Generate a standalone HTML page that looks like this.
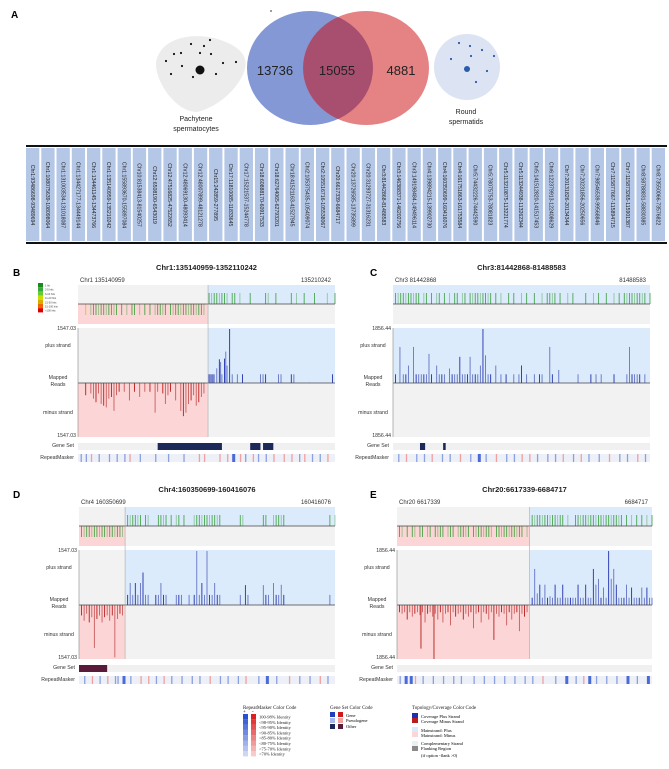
<!DOCTYPE html>
<html><head><meta charset="utf-8"><style>
html,body{margin:0;padding:0;background:#fff;}
svg{display:block;font-family:"Liberation Sans",sans-serif;}
</style></head><body>
<svg id="fig" width="669" height="769" viewBox="0 0 669 769" xmlns="http://www.w3.org/2000/svg">
<defs>
<clipPath id="blueClip"><ellipse cx="310" cy="68" rx="63" ry="57"/></clipPath>
</defs>
<g>
<text x="11" y="18" font-size="10" font-weight="bold">A</text>
<circle cx="271" cy="11" r="0.9" fill="#555"/>
<path d="M160,52 C170,35 205,30 232,45 C245,52 248,62 244,72 C236,92 215,108 197,112 C180,112 162,92 157,72 C155,64 156,58 160,52 Z" fill="#ececec"/>
<g fill="#111">
<circle cx="191" cy="44" r="1.1"/><circle cx="204" cy="46" r="1.1"/><circle cx="210" cy="40" r="1.1"/><circle cx="174" cy="54" r="1.1"/><circle cx="181" cy="53" r="1.1"/><circle cx="200" cy="53" r="1.1"/><circle cx="211" cy="54" r="1.1"/><circle cx="166" cy="61" r="1.1"/><circle cx="182" cy="66" r="1.1"/><circle cx="223" cy="63" r="1.1"/><circle cx="236" cy="62" r="1.1"/><circle cx="171" cy="74" r="1.1"/><circle cx="193" cy="77" r="1.1"/><circle cx="216" cy="74" r="1.1"/>
<circle cx="200" cy="70" r="4.5"/>
</g>
<text x="196" y="121" font-size="7" text-anchor="middle" fill="#222">Pachytene</text>
<text x="196" y="131" font-size="7" text-anchor="middle" fill="#222">spermatocytes</text>
<ellipse cx="310" cy="68" rx="63" ry="57" fill="#8398d4"/>
<ellipse cx="366" cy="68" rx="63" ry="57" fill="#e58384"/>
<ellipse cx="366" cy="68" rx="63" ry="57" fill="#a84f70" clip-path="url(#blueClip)"/>
<text x="275" y="75" font-size="13" text-anchor="middle" fill="#222">13736</text>
<text x="337" y="75" font-size="13" text-anchor="middle" fill="#222">15055</text>
<text x="401" y="75" font-size="13" text-anchor="middle" fill="#222">4881</text>
<ellipse cx="467" cy="67" rx="33" ry="33" fill="#dce3f3"/>
<g fill="#2a5caa">
<circle cx="459" cy="43" r="1.1"/><circle cx="470" cy="46" r="1.1"/><circle cx="482" cy="50" r="1.1"/><circle cx="494" cy="56" r="1.1"/><circle cx="451" cy="59" r="1.1"/><circle cx="471" cy="56" r="1.1"/><circle cx="487" cy="71" r="1.1"/><circle cx="476" cy="82" r="1.1"/><circle cx="467" cy="69" r="3"/>
</g>
<text x="466" y="114" font-size="7" text-anchor="middle" fill="#222">Round</text>
<text x="466" y="124" font-size="7" text-anchor="middle" fill="#222">spermatids</text>
<line x1="26" y1="146" x2="667" y2="146" stroke="#111" stroke-width="2"/>
<g id="table"></g>
<line x1="26" y1="243" x2="667" y2="243" stroke="#111" stroke-width="2"/>
</g>
<g id="panels"></g>
<g font-family="Liberation Serif, serif">
<text x="243" y="709" font-size="5" fill="#222">RepeatMasker Color Code</text>
<text x="243" y="713" font-size="5">+</text><text x="252" y="713" font-size="5">-</text>
<g id="rmLegend"></g>
<text x="330" y="709" font-size="5" fill="#222">Gene Set Color Code</text>
<rect x="330" y="712" width="5" height="5" fill="#1f3fbf"/><rect x="338" y="712" width="5" height="5" fill="#cc1a1a"/>
<rect x="330" y="718" width="5" height="5" fill="#a9b8ea"/><rect x="338" y="718" width="5" height="5" fill="#f2a0a0"/>
<rect x="330" y="724" width="5" height="5" fill="#1c2a5a"/><rect x="338" y="724" width="5" height="5" fill="#5a1a3a"/>
<text x="346" y="717" font-size="4.5">Gene</text>
<text x="346" y="722" font-size="4.5">Pseudogene</text>
<text x="346" y="728" font-size="4.5">Other</text>
<text x="412" y="709" font-size="5" fill="#222">Topology/Coverage Color Code</text>
<rect x="412" y="713" width="6" height="5" fill="#1f2fb0"/><rect x="412" y="718" width="6" height="5" fill="#b81c1c"/>
<text x="421" y="718" font-size="4.5">Coverage Plus Strand</text>
<text x="421" y="723" font-size="4.5">Coverage Minus Strand</text>
<rect x="412" y="727" width="6" height="5" fill="#dbe9fb"/><rect x="412" y="732" width="6" height="5" fill="#fcd6d6"/>
<text x="421" y="732" font-size="4.5">Mainstrand: Plus</text>
<text x="421" y="737" font-size="4.5">Mainstrand: Minus</text>
<rect x="412" y="741" width="6" height="5" fill="#efefef"/><rect x="412" y="746" width="6" height="5" fill="#8a8a8a"/>
<text x="421" y="745" font-size="4.5">Complementary Strand</text>
<text x="421" y="750" font-size="4.5">Flanking Region</text>
<text x="421" y="757" font-size="4.5">(if option -flank &gt;0)</text>
</g>
</svg>
<script>
const NS='http://www.w3.org/2000/svg';
const svg=document.getElementById('fig');
function mk(tag,attrs,parent){const e=document.createElementNS(NS,tag);for(const k in attrs)e.setAttribute(k,attrs[k]);(parent||svg).appendChild(e);return e;}

// ---------- table data ----------
const loci=["Chr1:93486698-93489694","Chr1:108075639-108098064","Chr1:131003534-131018087","Chr1:134427177-134449144","Chr1:134461145-134473766","Chr1:135140959-135210242","Chr1:155893670-155897084","Chr10:81538413-81540257","Chr12:6508190-6543019","Chr12:47516825-47522652","Chr12:48069130-48093414","Chr12:48007899-48121278","Chr15:242859-277895","Chr17:11810085-11833645","Chr17:15221537-15244778","Chr18:60888170-60917533","Chr18:62764065-62793201","Chr18:41521163-41527945","Chr2:105375435-105409074","Chr2:105516716-105538067","Chr20:6617339-6684717","Chr20:13726585-13735899","Chr20:31293727-31316231","Chr3:81442868-81488583","Chr3:146388371-146202756","Chr3:149198484-149496114","Chr4:139894215-139902730","Chr4:160350699-160416076","Chr4:161751863-161753584","Chr5:74432226-74442590","Chr5:78075753-78081823","Chr5:113210875-113221774","Chr5:113244938-113262344","Chr5:141512820-141517453","Chr6:122379913-122408629","Chr7:20131826-20134344","Chr7:20231856-20250656","Chr7:98546539-99568846","Chr7:115877667-115894715","Chr7:115873265-115901387","Chr8:58788831-58830385","Chr8:73550066-73576822"];

// ---------- panel B (Chr1) ----------
const bCovMinus=[3,5,6,7,8,9,10,11,12,13,14,15,17,19,21,22,24,26,28,30,31,32,33,34,36,37,38,39,40,41,42,43,44,45,46,47,48,49];
const bCovPlus=[51,52,53,54,55,56,57,58,60,61,63,67,73,74,77,83,85,88,92,97,100];
const bPlusPos=[51,51.5,52,52.5,53,54,55,55.5,56,57,57.5,58,59,60,62,64,71,72,73,78,79,83,84,90,99];
const bPlusVal=[250,250,250,250,250,420,680,600,250,700,900,500,1547,250,250,250,250,250,250,250,250,250,250,15,250];
const bMinusPos=[3,5,6,7,8,9,10,11,12,13,14,15,16,18,20,22,24,26,28,30,31,33,34,35,36,38,40,41,42,43,44,45,46,47,48,49];
const bMinusVal=[350,300,450,550,300,600,650,700,450,400,800,350,250,250,500,250,400,250,250,850,250,300,600,350,250,500,800,950,850,600,500,350,650,550,400,300];
const bGeneStart=[31,67,72], bGeneEnd=[56,71,76];
const bRepPos=[1,3,5,8,12,15,18,20,24,30,35,41,47,49,55,58,60,63,65,68,70,73,76,80,83,86,88,91,94,97];
const bRepType=['b','b','r','b','b','b','b','r','b','b','b','b','r','r','r','r','B','r','b','r','b','b','r','r','r','b','r','b','b','r'];

// ---------- panel C (Chr3) ----------
const cCovPlus=[1,2,3,4,5,6,7,8,9,10,12,13,15,17,18,20,22,24,25,27,28,30,31,32,33,34,35,36,37,38,40,42,45,47,50,52,55,58,60,61,62,63,65,68,70,75,78,80,83,86,88,90,91,92,93,94,95,96,97,98,100];
const cPlusPos=[1,2.7,4,5,6,8,9,10,11,12,13,14,15,17,18,19,20,22,23,24,25,26,27,28,29,30,31,32,33,34,35,36,37,38,40,42,44,47,49,50,52,55,57,58,61,62,64.5,72,77,79,81,86,91,92,93,94,95,96,98];
const cPlusVal=[300,1240,300,300,600,1240,300,300,300,300,300,1000,300,600,300,300,300,500,300,300,300,900,300,300,300,900,300,300,300,600,1856,950,300,300,600,300,300,300,300,600,300,300,300,300,1240,300,450,300,300,300,300,300,300,1240,300,300,300,300,300];
const cMinusPos=[], cMinusVal=[], cCovMinus=[];
const cGeneStart=[10.5,19.5], cGeneEnd=[12.5,20.5];
const cRepPos=[2,5,9,12,15,19,22,26,30,33,36,40,44,47,50,53,56,60,63,66,70,73,76,80,84,88,91,95,98];
const cRepType=['b','r','b','b','r','b','b','r','b','B','b','r','b','b','r','r','b','b','b','r','b','r','b','b','r','b','b','r','b'];

// ---------- panel D (Chr4) ----------
const dCovMinus=[1,2,3,4,5,6,7,8,9,10,11,12,13,14,15,16,17];
const dCovPlus=[19,20,21,22,23,24,26,27,31,32,33,34,36,38,39,41,45,46,47,48,49,50,51,52,53,54,55,63,64,72,73,76,77,78,79,80,98,100];
const dPlusPos=[19,20,21,22,23,24,25,26,27,30,31,32,33,34,38,39,40,43,45,46,47,48,49,50,51,52,53,54,55,63,65,66,72,73,74,76,77,78,79,80,98];
const dPlusVal=[290,630,290,630,290,630,930,290,290,290,290,630,290,290,290,290,290,290,290,1547,290,630,290,1547,290,290,630,290,290,290,570,290,570,290,290,630,290,290,580,290,290];
const dMinusPos=[1,2,3,4,5,6,7,8,9,10,11,12,13,14,15,16,17];
const dMinusVal=[300,450,250,500,350,1230,400,300,500,350,300,450,300,1500,400,250,300];
const dGeneStart=[0], dGeneEnd=[11];
const dRepPos=[2,5,8,11,14,15,17,20,24,27,30,33,36,40,44,47,51,55,58,62,65,70,73,77,82,86,90,94,97];
const dRepType=['b','r','b','r','b','b','B','b','r','r','b','r','b','b','b','b','r','b','b','b','r','b','B','b','r','b','b','r','b'];

// ---------- panel E (Chr20) ----------
const eCovMinus=[1,2,4,6,7,9,10,12,13,15,16,17,18,20,21,22,24,25,26,27,28,30,31,32,33,34,35,36,37,39,40,41,42,43,44,45,46,47,48,49,51];
const eCovPlus=[53,54,55,56,57,58,59,60,61,62,63,64,65,67,70,71,72,73,74,75,76,77,78,79,80,81,82,83,84,85,86,87,88,90,92,94,96,98,100];
const ePlusPos=[53,54,55,56,57,58,59,60,61,62,63,64,65,66,67,68,69,70,71,72,73,74,75,76,77,78,79,80,81,82,83,84,85,86,87,88,89,90,91,92,93,94,95,96,97,98,99,100];
const ePlusVal=[250,1240,400,700,250,700,250,300,250,700,250,250,700,250,250,250,250,250,700,250,250,700,250,250,1240,700,900,250,600,250,1856,900,1240,700,250,250,250,700,250,600,250,250,250,600,250,600,250,250];
const eMinusPos=[1,2,3,4,5,6,7,8,9,9.4,10,11,12,13,14,14.5,15,16,17,18,19,20,21,22,23,24,25,26,27,28,29,30,31,32,33,34,35,36,37,38,39,40,41,42,43,44,45,46,47,48,49,50,51];
const eMinusVal=[250,300,250,500,250,400,300,250,350,1500,250,600,300,250,400,1856,300,500,250,600,300,250,700,250,400,300,250,500,300,400,250,800,300,250,600,250,300,500,250,1200,300,400,250,300,700,250,500,300,250,900,300,400,250];
const eGeneStart=[], eGeneEnd=[];
const eRepPos=[1,3,5,7,10,14,18,22,25,30,34,38,42,46,50,53,57,62,66,70,73,75,78,82,86,90,94,98];
const eRepType=['b','B','B','r','b','b','b','b','b','b','b','b','b','b','b','b','r','b','B','b','r','B','b','b','b','B','b','B'];

// ---------- layout (not data) ----------
const panels=[
 {key:'b',letter:'B',lx:13,x0:78,x1:335,T:267,bound:50.6,max:'1547.03',maxV:1547.03,chr:'Chr1 135140959',end:'135210242',title:'Chr1:135140959-1352110242',legend:true,
  covMinus:bCovMinus,covPlus:bCovPlus,plusPos:bPlusPos,plusVal:bPlusVal,minusPos:bMinusPos,minusVal:bMinusVal,gs:bGeneStart,ge:bGeneEnd,geneColor:'#1c2a5a',rp:bRepPos,rt:bRepType},
 {key:'c',letter:'C',lx:370,x0:393,x1:650,T:267,bound:0,max:'1856.44',maxV:1856.44,chr:'Chr3 81442868',end:'81488583',title:'Chr3:81442868-81488583',
  covMinus:cCovMinus,covPlus:cCovPlus,plusPos:cPlusPos,plusVal:cPlusVal,minusPos:cMinusPos,minusVal:cMinusVal,gs:cGeneStart,ge:cGeneEnd,geneColor:'#1c2a5a',rp:cRepPos,rt:cRepType},
 {key:'d',letter:'D',lx:13,x0:79,x1:335,T:489,bound:18,max:'1547.03',maxV:1547.03,chr:'Chr4 160350699',end:'160416076',title:'Chr4:160350699-160416076',
  covMinus:dCovMinus,covPlus:dCovPlus,plusPos:dPlusPos,plusVal:dPlusVal,minusPos:dMinusPos,minusVal:dMinusVal,gs:dGeneStart,ge:dGeneEnd,geneColor:'#5a1a3a',rp:dRepPos,rt:dRepType},
 {key:'e',letter:'E',lx:370,x0:397,x1:652,T:489,bound:52,max:'1856.44',maxV:1856.44,chr:'Chr20 6617339',end:'6684717',title:'Chr20:6617339-6684717',
  covMinus:eCovMinus,covPlus:eCovPlus,plusPos:ePlusPos,plusVal:ePlusVal,minusPos:eMinusPos,minusVal:eMinusVal,gs:eGeneStart,ge:eGeneEnd,geneColor:'#1c2a5a',rp:eRepPos,rt:eRepType}
];

// ---------- table ----------
const tbl=document.getElementById('table');
const pitch=(667-26)/loci.length;
loci.forEach((s,i)=>{
  const x=26+i*pitch;
  const r=mk('rect',{x:x.toFixed(1),y:148,width:(pitch-2).toFixed(1),height:93,fill:'#b4c7e7'},tbl);
  
  
  const t=mk('text',{transform:`translate(${(x+pitch/2-2.8).toFixed(1)},195) rotate(90)`,'font-size':'5.2','text-anchor':'middle',fill:'#222'},tbl);
  t.textContent=s;
  
  
});

// ---------- panels ----------
const pg=document.getElementById('panels');
const covColors=['#1a8a1a','#3aa83a','#66cc33','#c8dd00','#ddaa00','#ee6600','#dd0000'];
const covLabels=['1 hit','2-5 hits','6-10 hits','11-20 hits','21-50 hits','51-100 hits','>100 hits'];
const repCol={b:'#8aa0e0',B:'#4a6ad8',r:'#f0a0a0'};

panels.forEach(p=>{
  const g=mk('g',{},pg);
  
  
  const X=v=>p.x0+v/100*(p.x1-p.x0);
  const T=p.T, bx=X(p.bound), W=p.x1-p.x0;
  const lab=mk('text',{x:p.lx,y:T+9,'font-size':10,'font-weight':'bold'},g);lab.textContent=p.letter;
  
  
  const ti=mk('text',{x:(p.x0+p.x1)/2,y:T+3,'font-size':7.5,'font-weight':'bold','text-anchor':'middle',fill:'#222'},g);ti.textContent=p.title;
  
  
  const c1=mk('text',{x:p.x0+2,y:T+15,'font-size':6,fill:'#333'},g);c1.textContent=p.chr;
  
  
  const c2=mk('text',{x:p.x1-4,y:T+15,'font-size':6,fill:'#333','text-anchor':'end'},g);c2.textContent=p.end;
  
  
  if(p.legend){
    covColors.forEach((c,i)=>{
      const r=mk('rect',{x:38,y:T+16+i*4.2,width:5,height:4.2,fill:c},g);
      
      
      const t=mk('text',{x:45,y:T+19.5+i*4.2,'font-size':2.6,fill:'#444'},g);t.textContent=covLabels[i];
      
      
    });
  }
  // coverage track
  const cy0=T+18, cm=T+37, cy1=T+57;
  const bg=mk('rect',{x:p.x0,y:cy0,width:W,height:cy1-cy0,fill:'#f2f2f2'},g);
  
  
  const pr=mk('rect',{x:bx,y:cy0,width:p.x1-bx,height:cm-cy0,fill:'#dcebfb'},g);
  
  
  if(p.bound>0){const mr=mk('rect',{x:p.x0,y:cm,width:bx-p.x0,height:cy1-cm,fill:'#fcd6d6'},g);
    
    }
  p.covPlus.forEach((v,i)=>{const l=mk('line',{x1:X(v),x2:X(v),y1:cy0+8,y2:cm,stroke:'#2e9a2e','stroke-width':0.9,'stroke-opacity':(i%3==1?0.45:0.85)},g);
    
    });
  p.covMinus.forEach((v,i)=>{const l=mk('line',{x1:X(v),x2:X(v),y1:cm,y2:cm+11,stroke:(p.key=='b'&&i==0)?'#d8c000':'#2e9a2e','stroke-width':0.9,'stroke-opacity':(i%3==1?0.45:0.85)},g);
    
    });
  const ml=mk('line',{x1:p.x0,x2:p.x1,y1:cm,y2:cm,stroke:'#444','stroke-width':0.8},g);
  
  
  // reads track
  const ry0=T+61, rm=T+116, ry1=T+170, H=54;
  const Y=v=>v/p.maxV*H;
  const rb=mk('rect',{x:p.x0,y:ry0,width:W,height:ry1-ry0,fill:'#f2f2f2'},g);
  
  
  const rp=mk('rect',{x:bx,y:ry0,width:p.x1-bx,height:rm-ry0,fill:'#dcebfb'},g);
  
  
  if(p.bound>0){const rmn=mk('rect',{x:p.x0,y:rm,width:bx-p.x0,height:ry1-rm,fill:'#fcd6d6'},g);
    
    }
  p.plusPos.forEach((v,i)=>{const l=mk('line',{x1:X(v),x2:X(v),y1:rm,y2:rm-Y(p.plusVal[i]),stroke:(i%3==0?'#1f2fb0':'#6272c4'),'stroke-width':0.9},g);
    
    });
  p.minusPos.forEach((v,i)=>{const l=mk('line',{x1:X(v),x2:X(v),y1:rm,y2:rm+Y(p.minusVal[i]),stroke:(i%3==0?'#b81c1c':'#c85a5a'),'stroke-width':0.9},g);
    
    });
  const ax=mk('line',{x1:p.x0,x2:p.x1,y1:rm,y2:rm,stroke:'#444','stroke-width':0.8},g);
  
  
  const va=mk('line',{x1:p.x0,x2:p.x0,y1:ry0,y2:ry1,stroke:'#888','stroke-width':0.6},g);
  
  
  if(p.bound>0){const bl=mk('line',{x1:bx,x2:bx,y1:cy0,y2:ry1,stroke:'#aaa','stroke-width':0.6},g);
    
    }
  const lx=p.x0-20;
  [['max-label',p.max,ry0+2,'end',p.x0-2],['plus-strand-label','plus strand',T+80,'middle',lx],['mapped-label','Mapped',T+112,'middle',lx],['reads-label','Reads',T+119,'middle',lx],['minus-strand-label','minus strand',T+147,'middle',lx],['min-label',p.max,ry1,'end',p.x0-2],['gene-set-label','Gene Set',T+180,'end',p.x0-4],['repeatmasker-label','RepeatMasker',T+192,'end',p.x0-4]].forEach(a=>{
    const t=mk('text',{x:a[4],y:a[2],'font-size':5.2,'text-anchor':a[3],fill:'#333'},g);t.textContent=a[1];
    
    
  });
  // gene set
  const gsb=mk('rect',{x:p.x0,y:T+176,width:W,height:7,fill:'#f0f0f0'},g);
  
  
  p.gs.forEach((s,i)=>{const r=mk('rect',{x:X(s),y:T+176,width:X(p.ge[i])-X(s),height:7,fill:p.geneColor},g);
    
    });
  // repeatmasker
  const rmb=mk('rect',{x:p.x0,y:T+187,width:W,height:8,fill:'#eef0f7'},g);
  
  
  p.rp.forEach((s,i)=>{const t=p.rt[i];const r=mk('rect',{x:X(s),y:T+187,width:t=='B'?3:1.3,height:8,fill:repCol[t]},g);
    
    });
});

// repeatmasker legend
const rml=document.getElementById('rmLegend');
const idLabels=['100-98% Identity','<98-95% Identity','<95-90% Identity','<90-85% Identity','<85-80% Identity','<80-75% Identity','<75-70% Identity','<70% Identity'];
idLabels.forEach((s,i)=>{
  const a=1-i*0.11;
  const r1=mk('rect',{x:243,y:714+i*5.3,width:5,height:5.3,fill:'#2a4fd0','fill-opacity':a.toFixed(2)},rml);
  
  
  const r2=mk('rect',{x:251,y:714+i*5.3,width:5,height:5.3,fill:'#dd2020','fill-opacity':a.toFixed(2)},rml);
  
  
  const t=mk('text',{x:259,y:718.5+i*5.3,'font-size':4.5,fill:'#222'},rml);t.textContent=s;
  
  
});
</script>
</body></html>
